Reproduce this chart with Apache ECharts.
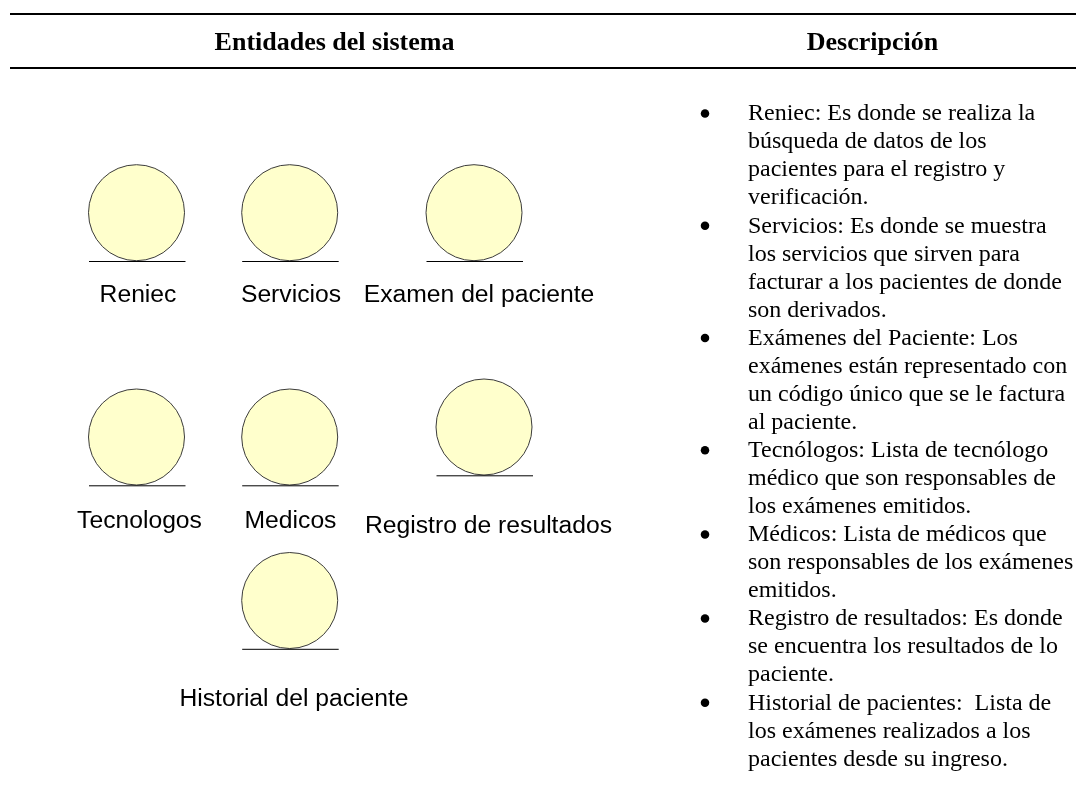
<!DOCTYPE html>
<html><head><meta charset="utf-8">
<style>html,body{margin:0;padding:0;background:#fff}#c{width:1076px;height:793px}</style>
<script src="https://cdn.jsdelivr.net/npm/echarts@6/dist/echarts.min.js"></script>
</head><body><div id="c"></div>
<script>
const headers = ['Entidades del sistema', 'Descripción'];
const headerX = [334.5, 872.5];
const entities = ['Reniec', 'Servicios', 'Examen del paciente', 'Tecnologos', 'Medicos', 'Registro de resultados', 'Historial del paciente'];
const entityX = [136.5, 289.7, 474, 136.5, 289.7, 484, 289.7];
const entityY = [212.7, 212.7, 212.7, 437, 437, 427, 600.5];
const labelX = [138, 291, 479, 139.5, 290.5, 488.5, 294];
const labelY = [295.5, 295.5, 295.5, 521, 521, 526, 699];
const descriptionLines = [
 'Reniec: Es donde se realiza la','búsqueda de datos de los','pacientes para el registro y','verificación.',
 'Servicios: Es donde se muestra','los servicios que sirven para','facturar a los pacientes de donde','son derivados.',
 'Exámenes del Paciente: Los','exámenes están representado con','un código único que se le factura','al paciente.',
 'Tecnólogos: Lista de tecnólogo','médico que son responsables de','los exámenes emitidos.',
 'Médicos: Lista de médicos que','son responsables de los exámenes','emitidos.',
 'Registro de resultados: Es donde','se encuentra los resultados de lo','paciente.',
 'Historial de pacientes:  Lista de','los exámenes realizados a los','pacientes desde su ingreso.'];
const bulletLines = [0,4,8,12,15,18,21];
const lineStep = 28.06, firstLineY = 114;

const chart = echarts.init(document.getElementById('c'), null, {renderer:'canvas'});
const serif = '"Liberation Serif","Times New Roman",serif';
const sans = '"Liberation Sans",Arial,sans-serif';
const hLine = (y,w)=>({type:'line',silent:true,symbol:'none',data:[[10,y],[1076,y]],lineStyle:{color:'#000',width:w},z:1});
const solid = {opacity:1};
chart.setOption({
 animation:false,
 backgroundColor:'#fff',
 grid:{left:0,right:0,top:0,bottom:0},
 xAxis:{type:'value',min:0,max:1076,show:false},
 yAxis:{type:'value',min:0,max:793,inverse:true,show:false},
 tooltip:{show:false},
 series:[
  hLine(14,2), hLine(68,2),
  {type:'scatter',symbol:'circle',symbolSize:0.01,silent:true,itemStyle:solid,
   data:headers.map((h,i)=>({value:[headerX[i],43],label:{show:true,formatter:h,position:'inside',color:'#000',fontFamily:serif,fontWeight:'bold',fontSize:26}}))},
  {type:'scatter',symbol:'circle',symbolSize:96,silent:true,
   data:entityX.map((x,i)=>[x,entityY[i]]),
   itemStyle:{color:'#ffffcc',borderColor:'#3c3c3c',borderWidth:1,opacity:1},z:3},
  ...entityX.map((x,i)=>({type:'line',silent:true,symbol:'none',
    data:[[x-47.5,entityY[i]+48.8],[x+49,entityY[i]+48.8]],lineStyle:{color:'#000',width:1},z:4})),
  {type:'scatter',symbol:'circle',symbolSize:0.01,silent:true,itemStyle:solid,
   data:entities.map((n,i)=>({value:[labelX[i],labelY[i]],label:{show:true,formatter:n,position:'inside',color:'#000',fontFamily:sans,fontSize:24.7}})),z:5},
  {type:'scatter',symbol:'circle',symbolSize:8.5,silent:true,
   data:bulletLines.map(i=>[705,firstLineY+i*lineStep-0.5]),itemStyle:{color:'#000',opacity:1},z:5},
  {type:'scatter',symbol:'circle',symbolSize:0.01,silent:true,itemStyle:solid,
   data:descriptionLines.map((t,i)=>({value:[748,firstLineY+i*lineStep],label:{show:true,formatter:t,position:'right',distance:0,color:'#000',fontFamily:serif,fontSize:24}})),z:5}
 ]
});
</script></body></html>
